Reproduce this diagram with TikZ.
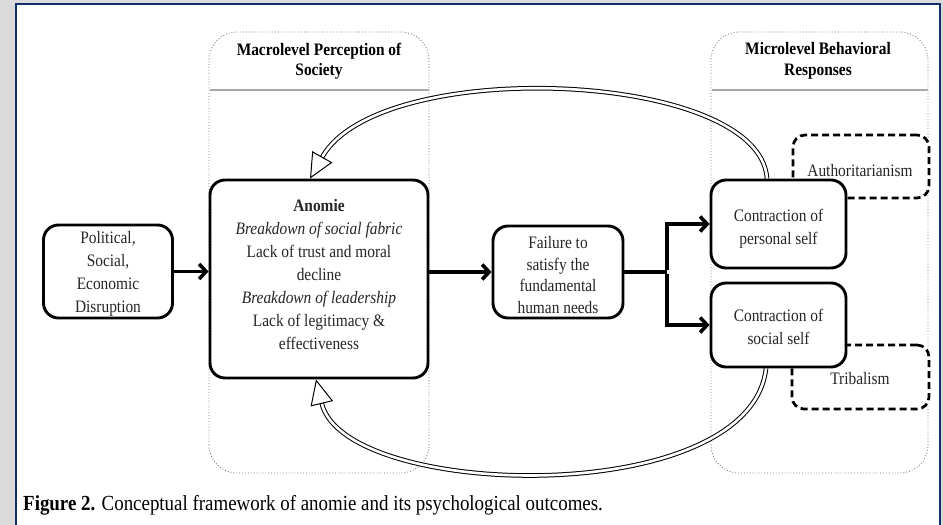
\documentclass[tikz,border=0pt]{standalone}
\usepackage{fontspec}
\setmainfont{Liberation Serif}[FakeStretch=0.88]
\usetikzlibrary{arrows.meta}
\definecolor{navy}{HTML}{0E2F6B}
\definecolor{pagegray}{HTML}{DADADA}
\definecolor{lanegray}{HTML}{7A7A7A}
\definecolor{rulegray}{HTML}{A8A8A8}
\definecolor{inkgray}{HTML}{262626}
\tikzset{
  lane/.style={draw=lanegray, line width=0.9pt, dotted, rounded corners=28pt},
  divider/.style={draw=rulegray, line width=1.1pt},
  head/.style={align=center, font=\bfseries\fontsize{17.5}{20.5}\selectfont},
  boxtext/.style={align=center, text=inkgray, font=\fontsize{17.5}{23}\selectfont, inner sep=0pt},
  procbox/.style={draw=black, line width=2.9pt, rounded corners=15pt, fill=white, boxtext},
  outcome/.style={draw=black, line width=2.7pt, dashed, dash pattern=on 7pt off 4pt,
    rounded corners=12pt, fill=white, boxtext},
  flow/.style={draw=black, line width=3.6pt},
  arr/.style={flow, -{Straight Barb[length=7pt, width=15pt]}},
  loopback/.style={draw=black, line width=1pt, double=white, double distance=2.6pt,
    -{Triangle[open, length=25pt, width=23pt]}}
}
\begin{document}
\begin{tikzpicture}[x=1pt, y=-1pt]
\useasboundingbox (0,0) rectangle (943,525);
% page frame
\fill[pagegray] (0,0) rectangle (943,525);
\fill[white] (16,4) rectangle (940,535);
\draw[navy, line width=2pt] (16,535) -- (16,4) -- (940,4) -- (940,535);

% swimlanes
\draw[lane] (209,473) -- (209,32) -- (429,32) -- (429,473) -- cycle;
\draw[divider] (209.5,90) -- (428.5,90);
\node[head] (machead) at (319,61) {Macrolevel Perception of\\Society};
\draw[lane] (711,473) -- (711,32) -- (928,32) -- (928,473) -- cycle;
\draw[divider] (711.5,90) -- (927.5,90);
\node[head] (michead) at (818,61) {Microlevel Behavioral\\Responses};

% dashed outcome boxes
\node[outcome, minimum width=136pt, minimum height=63pt] (auth) at (861,166.5) {};
\node[boxtext] (authtext) at (860,171) {Authoritarianism};
\node[outcome, minimum width=137pt, minimum height=64pt] (trib) at (860.5,377) {};
\node[boxtext] (tribtext) at (860,379) {Tribalism};

% process boxes
\node[procbox, minimum width=129pt, minimum height=93pt] (pol) at (108,271.5) {};
\node[boxtext] (poltext) at (108,274) {Political,\\Social,\\Economic\\Disruption};
\node[procbox, minimum width=218pt, minimum height=198pt] (anomie) at (319,279) {};
\node[boxtext] (anomietext) at (319,274.5)
  {\textbf{Anomie}\\\textit{Breakdown of social fabric}\\Lack of trust and moral\\decline\\\textit{Breakdown of leadership}\\Lack of legitimacy \&\\effectiveness};
\node[procbox, minimum width=130pt, minimum height=92pt] (fail) at (558,272) {};
\node[boxtext, font=\fontsize{17.5}{21.5}\selectfont] (failtext) at (558,275)
  {Failure to\\satisfy the\\fundamental\\human needs};
\node[procbox, minimum width=135pt, minimum height=88pt] (pers) at (778.5,224) {};
\node[boxtext] (perstext) at (778.5,229) {Contraction of\\personal self};
\node[procbox, minimum width=135pt, minimum height=84pt] (soc) at (778.5,325) {};
\node[boxtext] (soctext) at (778.5,327) {Contraction of\\social self};

% feedback loops
\draw[loopback] ([xshift=-11.5pt]pers.north) .. controls (760,70) and (380,55) .. ([xshift=-9pt]anomie.north);
\draw[loopback] ([xshift=-12.5pt]soc.south) .. controls (750,510) and (345,500) .. ([xshift=-3pt]anomie.south);

% main flow
\draw[arr] (pol.east) -- (pol.east -| anomie.west);
\draw[arr] (anomie.east |- fail.west) -- (fail.west);
\coordinate (branch) at (667,272);
\draw[flow] (fail.east) -- (branch);
\draw[arr] ([yshift=1.8pt]branch) |- (pers.west);
\draw[arr] ([yshift=-1.8pt]branch) |- (soc.west);

% caption
\node[anchor=base west, inner sep=0pt, font=\fontsize{21.5}{24}\selectfont] (caption) at (23,510)
  {\textbf{Figure 2.} Conceptual framework of anomie and its psychological outcomes.};
\end{tikzpicture}
\end{document}
